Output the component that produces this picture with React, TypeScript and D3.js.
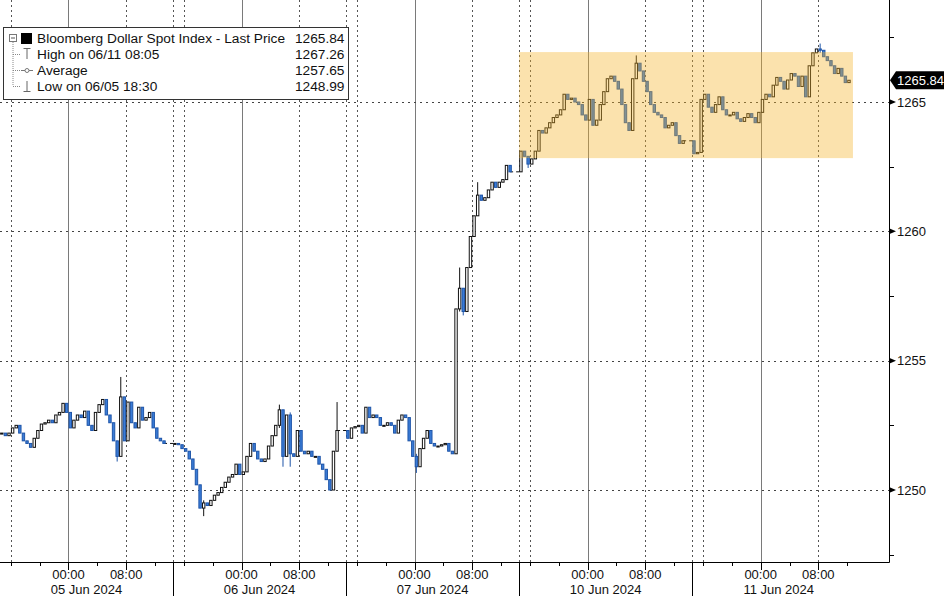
import React from "react";
import * as d3 from "d3";

// ---------- data ----------
const dayLabels = ["05 Jun 2024", "06 Jun 2024", "07 Jun 2024", "10 Jun 2024", "11 Jun 2024"];
const hourTicks = [
  { hour: 9.5, label: "00:00" },
  { hour: 17.5, label: "08:00" },
];
const minorHourTicks = [1.5, 5.5, 13.5, 21.5];
const dottedHours = [1.5, 17.5];
const solidHours = [9.5];
const yTicks = [1250, 1255, 1260, 1265];
const yMinorTicks = [1247.5, 1252.5, 1257.5, 1262.5, 1267.5];

// 30-minute closes per session (session starts 14:30 previous day)
const closesJun05 = [
  1252.2, 1252.1, 1252.2, 1252.4, 1252.5, 1252.2, 1251.9, 1251.8, 1251.65, 1252.0,
  1252.3, 1252.55, 1252.6, 1252.7, 1252.6, 1252.9, 1253.0, 1253.35, 1253.0, 1252.4,
  1252.7, 1252.9, 1252.8, 1253.05, 1252.5, 1252.3, 1253.0, 1253.3, 1253.5, 1252.9,
  1252.6, 1251.9, 1251.3, 1253.6, 1251.9, 1253.4, 1252.6, 1252.4, 1253.2, 1252.7,
  1252.8, 1253.0, 1252.4, 1252.0, 1251.9, 1251.8,
];
const closesJun06 = [
  1251.8, 1251.75, 1251.6, 1251.5, 1251.2, 1250.8, 1250.2, 1249.3, 1249.5, 1249.4,
  1249.6, 1249.8, 1249.9, 1250.1, 1250.3, 1250.5, 1250.6, 1251.0, 1250.6, 1250.7,
  1251.3, 1251.8, 1251.5, 1251.2, 1251.1, 1251.2, 1251.7, 1252.1, 1252.5, 1253.1,
  1251.3, 1252.9, 1251.4, 1251.3, 1252.3, 1251.5, 1251.4, 1251.5, 1251.3, 1251.3,
  1251.0, 1250.8, 1250.4, 1250.0, 1251.5, 1252.3,
];
const closesJun07 = [
  1252.0, 1252.4, 1252.45, 1252.5, 1252.2, 1253.2, 1252.8, 1252.9, 1252.8, 1252.5,
  1252.5, 1252.6, 1252.5, 1252.2, 1252.7, 1252.9, 1252.8, 1251.9, 1251.3, 1250.9,
  1251.6, 1252.0, 1252.3, 1251.8, 1251.7, 1251.7, 1251.75, 1251.8, 1251.5, 1251.4,
  1257.0, 1257.8, 1256.9, 1258.6, 1259.8, 1260.6, 1261.4, 1261.2, 1261.3, 1261.6,
  1261.9, 1261.7, 1261.9, 1262.0, 1262.55, 1262.3,
];
const closesJun10 = [
  1263.1, 1262.9, 1262.6, 1262.8, 1263.1, 1263.9, 1263.8, 1264.0, 1264.2, 1264.4,
  1264.5, 1264.7, 1265.3, 1265.1, 1265.15, 1265.0, 1264.9, 1264.5, 1264.3, 1265.1,
  1264.1, 1264.3, 1264.9, 1265.4, 1265.9, 1266.0, 1265.8, 1265.5, 1264.9, 1264.2,
  1263.9, 1265.9, 1266.5, 1266.2, 1265.8, 1265.4, 1264.9, 1264.6, 1264.5, 1264.4,
  1264.0, 1264.1, 1264.2, 1263.7, 1263.4, 1263.5,
];
const closesJun11 = [
  1263.0, 1263.05, 1265.1, 1265.3, 1264.8, 1264.6, 1264.9, 1265.2, 1264.7, 1264.5,
  1264.5, 1264.6, 1264.35, 1264.25, 1264.4, 1264.55, 1264.4, 1264.2, 1264.6, 1265.1,
  1265.3, 1265.2, 1265.65, 1265.95, 1265.8, 1265.5, 1265.85, 1266.1, 1266.0, 1265.6,
  1266.0, 1265.2, 1266.4, 1266.9, 1267.05, 1267.0, 1266.75, 1266.6, 1266.4, 1266.1,
  1266.3, 1266.0, 1265.75, 1265.84,
];
const sessions = [closesJun05, closesJun06, closesJun07, closesJun10, closesJun11];

// [session, bar, high, low] for bars with long wicks
const wickExtremes: [number, number, number, number][] = [
  [0, 32, 1251.8, 1251.1],
  [0, 33, 1254.37, 1251.3],
  [1, 8, 1249.6, 1248.99],
  [1, 29, 1253.3, 1252.4],
  [1, 30, 1253.1, 1250.9],
  [1, 32, 1253.0, 1250.9],
  [1, 45, 1253.4, 1251.5],
  [2, 19, 1251.4, 1250.66],
  [2, 31, 1258.6, 1256.9],
  [2, 32, 1257.8, 1256.75],
  [2, 36, 1261.9, 1260.6],
  [3, 2, 1262.9, 1262.45],
  [3, 32, 1266.8, 1265.9],
  [4, 35, 1267.26, 1266.9],
];

const legendTitle = "Bloomberg Dollar Spot Index - Last Price";
const legendLabels = ["High on 06/11 08:05", "Average", "Low on 06/05 18:30"];
const legendValues = ["1265.84", "1267.26", "1257.65", "1248.99"];
const lastPrice = 1265.84;
// highlight band: hours from first session start, value range
const bandHours = [72, 118.3];
const bandValues = [1262.83, 1266.93];

// ---------- chart ----------
const W = 944;
const H = 596;
const PR = 889; // plot right
const PB = 562; // plot bottom
const FONT = "'Liberation Sans', Arial, sans-serif";

type Bar = { h: number; o: number; c: number; hi: number; lo: number };

export default function App() {
  const x = d3.scaleLinear().domain([0, 123.3]).range([0, PR]);
  const y = d3.scaleLinear().domain([1250, 1265]).range([490, 102]);
  const px = (v: number) => Math.round(v) + 0.5;

  const bars: Bar[][] = [];
  let prev: number | null = null;
  sessions.forEach((arr, d) => {
    const list: Bar[] = [];
    arr.forEach((c, i) => {
      const o = prev ?? c;
      let hi = Math.max(o, c);
      let lo = Math.min(o, c);
      const w = wickExtremes.find((e) => e[0] === d && e[1] === i);
      if (w) {
        hi = Math.max(hi, w[2]);
        lo = Math.min(lo, w[3]);
      }
      list.push({ h: d * 24 + 0.25 + 0.5 * i, o, c, hi, lo });
      prev = c;
    });
    bars.push(list);
  });

  const gridDotted: number[] = [];
  const gridSolid: number[] = [];
  sessions.forEach((_, d) => {
    dottedHours.forEach((h) => gridDotted.push(d * 24 + h));
    solidHours.forEach((h) => gridSolid.push(d * 24 + h));
    if (d > 0) gridDotted.push(d * 24);
  });

  const bw = 2.4;
  const yLast = y(lastPrice);

  return (
    <svg
      width={W}
      height={H}
      style={{ position: "absolute", left: 0, top: 0, background: "#fff" }}
      fontFamily={FONT}
    >
      <rect x={0} y={0} width={W} height={H} fill="#fff" />
      {/* vertical grid */}
      {gridSolid.map((h, i) => (
        <line key={"gs" + i} x1={px(x(h))} x2={px(x(h))} y1={0} y2={PB} stroke="#7a7a7a" strokeWidth={1} />
      ))}
      {gridDotted.map((h, i) => (
        <line key={"gd" + i} x1={px(x(h))} x2={px(x(h))} y1={0} y2={PB} stroke="#555" strokeWidth={1} strokeDasharray="2,3" />
      ))}
      {/* horizontal grid */}
      {yTicks.map((v) => (
        <line key={"gy" + v} x1={0} x2={PR} y1={px(y(v))} y2={px(y(v))} stroke="#444" strokeWidth={1} strokeDasharray="2,4" />
      ))}

      {/* gap connectors */}
      {bars.slice(0, -1).map((list, d) => {
        const a = list[list.length - 1];
        const b = bars[d + 1][0];
        return (
          <line key={"gap" + d} x1={x(a.h)} x2={x(b.h)} y1={y(a.c)} y2={y(b.o)} stroke="#111" strokeWidth={1} strokeDasharray="3,3" />
        );
      })}

      {/* candles */}
      {bars.flat().map((b, i) => {
        const up = b.c >= b.o;
        const cx = x(b.h);
        const top = y(Math.max(b.o, b.c));
        const bot = y(Math.min(b.o, b.c));
        const hgt = Math.max(1, bot - top);
        const stroke = up ? "#111" : "#1f55a8";
        return (
          <g key={"c" + i}>
            <line x1={cx} x2={cx} y1={y(b.hi)} y2={y(b.lo)} stroke={stroke} strokeWidth={1} />
            <rect x={cx - bw / 2} y={top} width={bw} height={hgt} fill={up ? "#fff" : "#3b7dd8"} stroke={stroke} strokeWidth={1} />
          </g>
        );
      })}

      {/* highlight band */}
      <rect
        x={x(bandHours[0])}
        y={y(bandValues[1])}
        width={x(bandHours[1]) - x(bandHours[0])}
        height={y(bandValues[0]) - y(bandValues[1])}
        fill="#f5b228"
        opacity={0.38}
      />

      {/* axes lines */}
      <line x1={0} x2={PR + 0.5} y1={PB + 0.5} y2={PB + 0.5} stroke="#000" strokeWidth={1} />
      <line x1={PR + 0.5} x2={PR + 0.5} y1={0} y2={PB + 0.5} stroke="#000" strokeWidth={1} />

      {/* right axis */}
      {yMinorTicks.map((v) => (
        <line key={"ym" + v} x1={PR} x2={PR + 5} y1={px(y(v))} y2={px(y(v))} stroke="#000" strokeWidth={1} />
      ))}
      {yTicks.map((v) => {
        const yy = y(v);
        return (
          <g key={"yt" + v}>
            <path d={`M${PR},${yy - 3}L${PR + 7},${yy}L${PR},${yy + 3}Z`} fill="#000" />
            <text x={PR + 8} y={yy + 4.5} fontSize={13} fill="#111">
              {v}
            </text>
          </g>
        );
      })}
      {/* last price tag */}
      <path
        d={`M${PR + 1},${yLast}L${PR + 7},${yLast - 9}L${W},${yLast - 9}L${W},${yLast + 9}L${PR + 7},${yLast + 9}Z`}
        fill="#000"
      />
      <text x={PR + 8} y={yLast + 4.5} fontSize={13} fill="#fff">
        {lastPrice.toFixed(2)}
      </text>

      {/* bottom axis */}
      {sessions.map((_, d) => (
        <g key={"xd" + d}>
          {d > 0 && (
            <line x1={px(x(d * 24))} x2={px(x(d * 24))} y1={PB} y2={H} stroke="#000" strokeWidth={1} />
          )}
          {minorHourTicks.map((h) => (
            <line key={"mt" + h} x1={px(x(d * 24 + h))} x2={px(x(d * 24 + h))} y1={PB} y2={PB + 4} stroke="#000" />
          ))}
          {hourTicks.map((t) => (
            <g key={"ht" + t.hour}>
              <line x1={px(x(d * 24 + t.hour))} x2={px(x(d * 24 + t.hour))} y1={PB} y2={PB + 8} stroke="#000" />
              <text x={x(d * 24 + t.hour)} y={PB + 17} fontSize={13} textAnchor="middle" fill="#111">
                {t.label}
              </text>
            </g>
          ))}
          <text x={x(d * 24 + 12)} y={PB + 32} fontSize={13} textAnchor="middle" fill="#111">
            {dayLabels[d]}
          </text>
        </g>
      ))}

      {/* legend */}
      <g>
        <rect x={3.5} y={27.5} width={345} height={72} fill="#fff" stroke="#333" strokeWidth={1} />
        {/* tree */}
        <rect x={9.5} y={34.5} width={7} height={7} fill="#fff" stroke="#777" />
        <line x1={11} x2={15} y1={38} y2={38} stroke="#555" />
        <line x1={13} x2={13} y1={42} y2={86} stroke="#888" strokeDasharray="1,1" />
        {[54, 70, 86].map((yy) => (
          <line key={"tr" + yy} x1={13} x2={20} y1={yy + 0.5} y2={yy + 0.5} stroke="#888" strokeDasharray="1,1" />
        ))}
        <rect x={21} y={33} width={11} height={11} fill="#000" />
        {/* high icon */}
        <line x1={23.5} x2={30.5} y1={48.5} y2={48.5} stroke="#666" />
        <line x1={27} x2={27} y1={48.5} y2={59} stroke="#666" />
        {/* avg icon */}
        <line x1={21} x2={33} y1={70.5} y2={70.5} stroke="#777" />
        <circle cx={27} cy={70.5} r={2} fill="#fff" stroke="#777" />
        {/* low icon */}
        <line x1={27} x2={27} y1={81} y2={91.5} stroke="#666" />
        <line x1={23.5} x2={30.5} y1={91.5} y2={91.5} stroke="#666" />
        {[legendTitle, ...legendLabels].map((t, i) => (
          <text key={"lt" + i} x={37} y={43 + i * 16} fontSize={13.7} fill="#111">
            {t}
          </text>
        ))}
        {legendValues.map((t, i) => (
          <text key={"lv" + i} x={295} y={43 + i * 16} fontSize={13.7} fill="#111">
            {t}
          </text>
        ))}
      </g>
    </svg>
  );
}
